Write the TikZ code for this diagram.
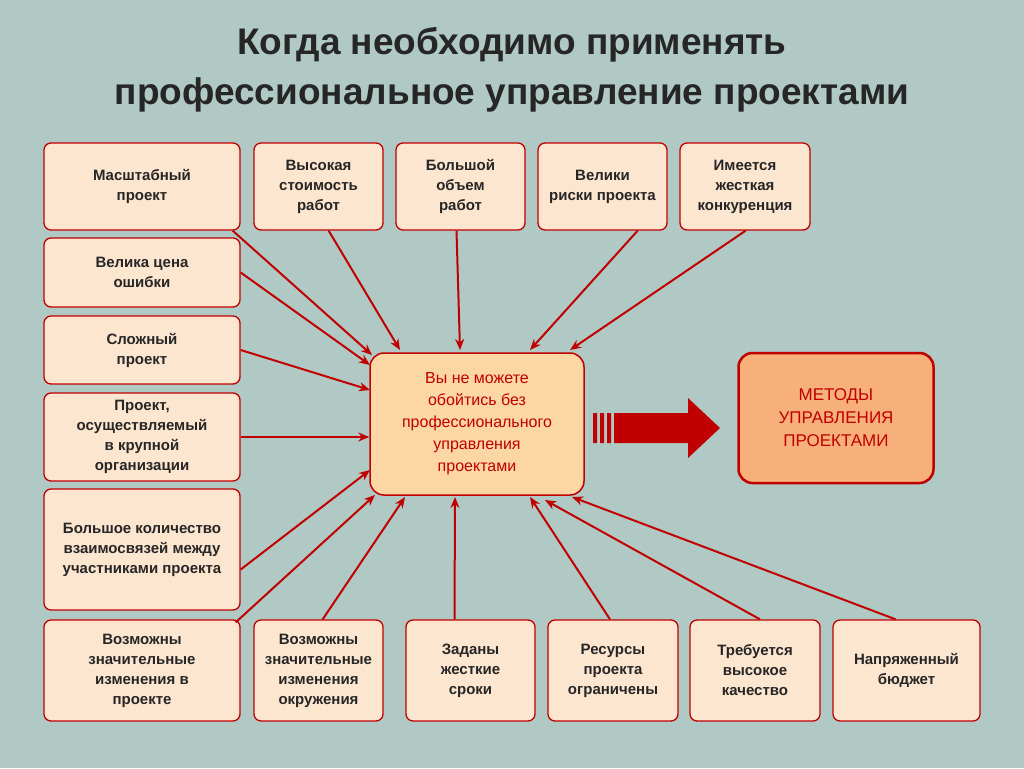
\documentclass[tikz,border=0pt]{standalone}
\usepackage{fontspec}
\setmainfont{Liberation Sans}
\usetikzlibrary{arrows.meta,calc}
\definecolor{bg}{HTML}{B0C9C4}
\definecolor{dred}{HTML}{C00000}
\definecolor{boxf}{HTML}{FDE6CF}
\definecolor{cenf}{HTML}{FDD6A6}
\definecolor{rf}{HTML}{F8B07A}
\begin{document}
\begin{tikzpicture}[x=1pt,y=-1pt,
  bx/.style={draw=dred,line width=1.3pt,fill=boxf,rounded corners=7pt,font=\fontsize{15}{20}\selectfont\bfseries,align=center,text=black!85,inner sep=0pt},
  arr/.style={draw=dred,line width=2pt,-{Stealth[length=11pt,width=9pt]}}]
\fill[bg] (0,0) rectangle (1024,768);
\useasboundingbox (0,0) rectangle (1024,768);
\node[font=\fontsize{37}{50}\selectfont\bfseries,align=center,text=black!85] (t) at (512,70) {Когда необходимо применять\\профессиональное управление проектами};
\newcommand\bxn[6]{\node[bx,minimum width=#4-#2,minimum height=#5-#3] (#1) at ({(#2+#4)/2},{(#3+#5)/2}) {#6};}
\bxn{a}{44}{143}{240}{230}{Масштабный\\проект}
\bxn{b}{254}{143}{383}{230}{Высокая\\стоимость\\работ}
\bxn{c}{396}{143}{525}{230}{Большой\\объем\\работ}
\bxn{d}{538}{143}{667}{230}{Велики\\риски проекта}
\bxn{e}{680}{143}{810}{230}{Имеется\\жесткая\\конкуренция}
\bxn{f}{44}{238}{240}{307}{Велика цена\\ошибки}
\bxn{g}{44}{316}{240}{384}{Сложный\\проект}
\bxn{h}{44}{393}{240}{481}{Проект,\\осуществляемый\\в крупной\\организации}
\bxn{i}{44}{489}{240}{610}{Большое количество\\взаимосвязей между\\участниками проекта}
\bxn{j}{44}{620}{240}{721}{Возможны\\значительные\\изменения в\\проекте}
\bxn{k}{254}{620}{383}{721}{Возможны\\значительные\\изменения\\окружения}
\bxn{l}{406}{620}{535}{721}{Заданы\\жесткие\\сроки}
\bxn{m}{548}{620}{678}{721}{Ресурсы\\проекта\\ограничены}
\bxn{n}{690}{620}{820}{721}{Требуется\\высокое\\качество}
\bxn{o}{833}{620}{980}{721}{Напряженный\\бюджет}
\node[draw=dred,line width=1.5pt,fill=cenf,rounded corners=14pt,minimum width=214,minimum height=142,align=center,text=dred,font=\fontsize{16}{22}\selectfont] (C) at (477,424) {Вы не можете\\обойтись без\\профессионального\\управления\\проектами};
\node[draw=dred,line width=2.5pt,fill=rf,rounded corners=14pt,minimum width=195,minimum height=130,align=center,text=dred,font=\fontsize{17}{23}\selectfont] (R) at (836,418) {МЕТОДЫ\\УПРАВЛЕНИЯ\\ПРОЕКТАМИ};
\fill[dred] (593,413) rectangle (597,443) (600,413) rectangle (604,443) (607,413) rectangle (611,443);
\fill[dred] (614,413) -- (688,413) -- (688,398) -- (720,428) -- (688,458) -- (688,443) -- (614,443) -- cycle;
\draw[arr] ([xshift=-8]a.south east) -- (372,355);
\draw[arr] ([xshift=-55]b.south east) -- (400,350);
\draw[arr] ([xshift=-4]c.south) -- (460,350);
\draw[arr] ([xshift=-30]d.south east) -- (530,350);
\draw[arr] ([xshift=-65]e.south east) -- (570,350);
\draw[arr] (f.east) -- (370,365);
\draw[arr] (g.east) -- (370,390);
\draw[arr] (h.east) -- (C.west |- h.east);
\draw[arr] ([yshift=-20]i.east) -- (370,470);
\draw[arr] ([xshift=-5,yshift=-3]j.north east) -- (375,495);
\draw[arr] ([xshift=-61]k.north east) -- (405,497);
\draw[arr] ([xshift=-16]l.north) -- (455,497);
\draw[arr] ([xshift=-3]m.north) -- (530,497);
\draw[arr] ([xshift=5]n.north) -- (545,500);
\draw[arr] ([xshift=-85]o.north east) -- (572,497);
\end{tikzpicture}
\end{document}
